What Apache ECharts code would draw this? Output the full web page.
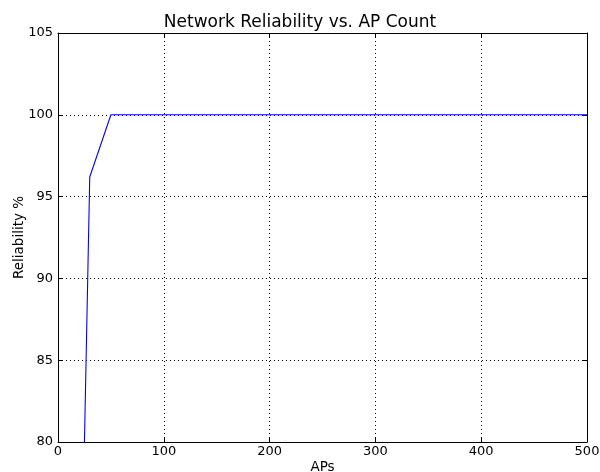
<!DOCTYPE html>
<html>
<head>
<meta charset="utf-8">
<script src="https://cdn.jsdelivr.net/npm/echarts@6/dist/echarts.min.js"></script>
<style>html,body{margin:0;padding:0;background:#fff;overflow:hidden;}#c{width:600px;height:472px;}</style>
</head>
<body>
<div id="c"></div>
<script>
var apCounts = [25, 30, 50, 500];
var reliability = [80, 96.2, 100, 100];
var xTicks = [0, 100, 200, 300, 400, 500];
var yTicks = [80, 85, 90, 95, 100, 105];

var font = 'DejaVu Sans';
var chart = echarts.init(document.getElementById('c'), null, {renderer: 'canvas'});
var pts = apCounts.map(function (x, i) { return [x, reliability[i]]; });

function frameAxis(base) {
  return Object.assign({
    type: 'value',
    axisLine: {show: true, onZero: false, lineStyle: {color: '#000', width: 1}},
    axisTick: {show: true, inside: true, length: 4, lineStyle: {color: '#000'}},
    animation: false
  }, base);
}

chart.setOption({
  animation: false,
  backgroundColor: '#fff',
  title: {
    text: 'Network Reliability vs. AP Count',
    left: 'center',
    top: 9,
    textStyle: {fontFamily: font, fontSize: 17, fontWeight: 'normal', color: '#000'}
  },
  grid: {left: 58, right: 13, top: 33, bottom: 30, containLabel: false, outerBoundsMode: 'none'},
  xAxis: [
    frameAxis({
      position: 'bottom',
      min: xTicks[0], max: xTicks[xTicks.length - 1], interval: 100,
      name: 'APs', nameLocation: 'middle', nameGap: 18, nameMoveOverlap: false,
      nameTextStyle: {fontFamily: font, fontSize: 13.5, color: '#000'},
      axisLabel: {fontFamily: font, fontSize: 13, color: '#000', margin: 3},
      splitLine: {show: true, lineStyle: {color: '#000', type: [1, 3], width: 1}}
    }),
    frameAxis({
      position: 'top',
      min: xTicks[0], max: xTicks[xTicks.length - 1], interval: 100,
      axisLabel: {show: false},
      splitLine: {show: false}
    })
  ],
  yAxis: [
    frameAxis({
      position: 'left',
      min: yTicks[0], max: yTicks[yTicks.length - 1], interval: 5,
      name: 'Reliability %', nameLocation: 'middle', nameGap: 32, nameMoveOverlap: false,
      nameTextStyle: {fontFamily: font, fontSize: 13.5, color: '#000'},
      axisLabel: {fontFamily: font, fontSize: 13, color: '#000', margin: 5},
      splitLine: {show: true, lineStyle: {color: '#000', type: [1, 3], width: 1}}
    }),
    frameAxis({
      position: 'right',
      min: yTicks[0], max: yTicks[yTicks.length - 1], interval: 5,
      axisLabel: {show: false},
      splitLine: {show: false}
    })
  ],
  series: [{
    type: 'line',
    data: pts,
    xAxisIndex: 0,
    yAxisIndex: 0,
    showSymbol: false,
    symbol: 'none',
    clip: true,
    lineStyle: {color: '#0000ff', width: 1.1},
    z: 5
  }]
});
</script>
</body>
</html>
